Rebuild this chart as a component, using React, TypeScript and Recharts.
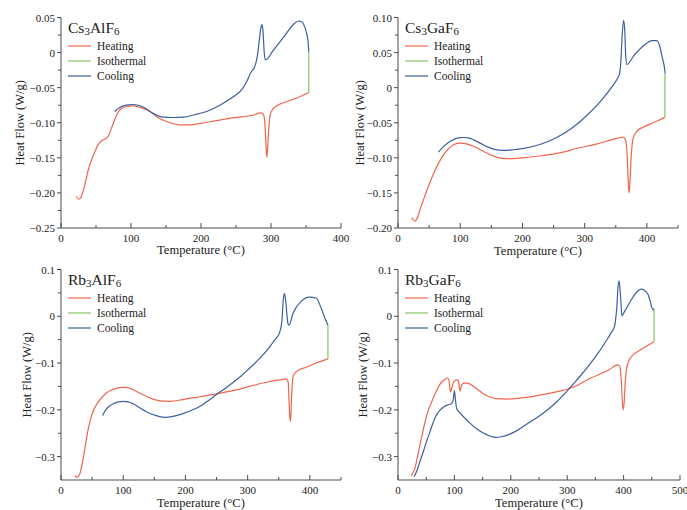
import React from "react";
import { LineChart, Line, XAxis, YAxis, Legend, Label } from "recharts";

// DSC heat-flow curves, four salts, one panel each.
const HEAT = "#f0654c";
const ISO = "#86c462";
const COOL = "#3d5f9f";
const AXIS = "#4a4a4a";
const INK = "#222";
const FONT = '"Liberation Serif", "Times New Roman", serif';

type Pair = [number, number];

// ---- Cs3AlF6 ----
const csAlHeating: Pair[] = [
  [22, -0.205], [25.5, -0.209], [29, -0.205], [32, -0.196], [36, -0.18], [39, -0.167], [44, -0.152],
  [48.6, -0.141], [52, -0.133], [55.7, -0.128], [59, -0.125], [63, -0.123], [66, -0.121], [69, -0.116],
  [72.4, -0.107], [77, -0.095], [81, -0.086], [86, -0.08], [94, -0.077], [103, -0.076], [113, -0.078],
  [127, -0.084], [141, -0.094], [156, -0.1], [170, -0.103], [184, -0.103], [199, -0.101], [222, -0.097],
  [246, -0.093], [270, -0.09], [276, -0.089], [280, -0.087], [286, -0.086], [289, -0.088], [291, -0.097],
  [293, -0.135], [294, -0.149], [295, -0.138], [296.5, -0.112], [299, -0.088], [303, -0.08], [308, -0.076],
  [322, -0.07], [341, -0.063], [354, -0.057],
];
const csAlIsothermal: Pair[] = [[354, -0.057], [354, 0.001]];
const csAlCooling: Pair[] = [
  [77, -0.084], [83, -0.079], [89, -0.076], [96, -0.0745], [103, -0.074], [110, -0.075], [118, -0.078],
  [132, -0.087], [146, -0.092], [160, -0.0925], [175, -0.092], [189, -0.089], [208, -0.084], [227, -0.075],
  [246, -0.063], [258, -0.053], [265, -0.042], [272, -0.027], [276, -0.022], [280, -0.008], [283, 0.015],
  [285.5, 0.035], [287, 0.04], [288.5, 0.032], [290, 0.005], [291.5, -0.01], [293, -0.01], [303, 0.003],
  [318, 0.022], [332, 0.04], [339, 0.045], [344, 0.044], [348, 0.037], [351, 0.027], [353, 0.015], [354, 0.001],
];

// ---- Cs3GaF6 ----
const csGaHeating: Pair[] = [
  [22, -0.185], [27, -0.19], [31, -0.186], [35, -0.175], [40, -0.162], [50, -0.138], [60, -0.117],
  [70, -0.1], [80, -0.088], [90, -0.081], [100, -0.079], [110, -0.08], [125, -0.085], [140, -0.092],
  [155, -0.098], [170, -0.101], [185, -0.101], [200, -0.1], [230, -0.097], [260, -0.093], [290, -0.086],
  [320, -0.08], [345, -0.074], [362, -0.0705], [366, -0.075], [368.5, -0.1], [370.5, -0.142], [371.5, -0.15],
  [373, -0.13], [375, -0.095], [378, -0.072], [384, -0.062], [395, -0.056], [410, -0.05], [420, -0.046],
  [429, -0.042],
];
const csGaIsothermal: Pair[] = [[429, -0.042], [429, 0.02]];
const csGaCooling: Pair[] = [
  [65, -0.092], [73, -0.084], [81, -0.078], [89, -0.074], [97, -0.0715], [105, -0.071], [113, -0.0715],
  [121, -0.074], [132, -0.079], [143, -0.084], [155, -0.088], [169, -0.0895], [185, -0.0885], [202, -0.0865],
  [228, -0.081], [255, -0.071], [282, -0.056], [303, -0.04], [325, -0.02], [346, 0.004], [352, 0.012],
  [356, 0.02], [358, 0.035], [360, 0.07], [362.5, 0.096], [364.5, 0.08], [366, 0.045], [368, 0.033],
  [378.5, 0.045], [395, 0.06], [408, 0.067], [416, 0.067], [421, 0.058], [425, 0.042], [428, 0.03], [429.5, 0.02],
];

// ---- Rb3AlF6 ----
const rbAlHeating: Pair[] = [
  [22.5, -0.341], [26, -0.344], [30.5, -0.336], [34, -0.315], [38.5, -0.282], [42, -0.253], [46.5, -0.225],
  [51, -0.205], [57, -0.189], [64, -0.176], [73, -0.164], [81, -0.158], [89, -0.154], [96, -0.152],
  [103, -0.152], [116, -0.157], [126, -0.164], [137, -0.171], [148, -0.177], [159, -0.181], [175, -0.182],
  [196, -0.178], [223, -0.172], [250, -0.166], [276, -0.159], [303, -0.15], [330, -0.141], [351, -0.136],
  [362, -0.134], [365, -0.14], [366.5, -0.18], [368, -0.22], [369, -0.224], [370.5, -0.175], [372, -0.14],
  [374, -0.125], [381, -0.116], [394, -0.109], [410, -0.1], [429, -0.091],
];
const rbAlIsothermal: Pair[] = [[429, -0.091], [429, -0.019]];
const rbAlCooling: Pair[] = [
  [67, -0.212], [70, -0.204], [73, -0.198], [78, -0.192], [84, -0.187], [92, -0.183], [100, -0.182],
  [108, -0.183], [116, -0.187], [126, -0.195], [137, -0.204], [150, -0.211], [167, -0.216], [180, -0.214],
  [196, -0.208], [210, -0.201], [223, -0.193], [236, -0.181], [250, -0.167], [263, -0.155], [276, -0.142],
  [290, -0.127], [303, -0.111], [315, -0.096], [325, -0.082], [334, -0.068], [341, -0.055], [347, -0.045],
  [351, -0.036], [355, -0.011], [357, 0.032], [359, 0.049], [361, 0.035], [363, 0.005], [365, -0.017],
  [366.5, -0.019], [373, 0.007], [386, 0.032], [399, 0.041], [410, 0.039], [418, 0.018], [425, -0.007],
  [429, -0.019],
];

// ---- Rb3GaF6 ----
const rbGaHeating: Pair[] = [
  [23, -0.341], [30, -0.325], [35, -0.298], [39, -0.275], [44, -0.247], [48, -0.225], [54, -0.2],
  [60, -0.182], [66, -0.165], [72, -0.15], [78, -0.14], [84, -0.134], [88, -0.132], [90.5, -0.138],
  [92, -0.152], [93, -0.162], [94.5, -0.157], [96, -0.15], [99, -0.14], [102, -0.137], [105, -0.136],
  [107.5, -0.14], [109, -0.155], [110, -0.16], [111.5, -0.152], [113, -0.147], [117, -0.143], [122.5, -0.143],
  [134, -0.15], [143, -0.158], [152, -0.166], [162, -0.172], [175, -0.176], [194, -0.177], [224, -0.174],
  [253, -0.168], [283, -0.161], [300, -0.156], [313, -0.15], [342, -0.132], [372, -0.116], [390, -0.104],
  [393.5, -0.108], [396, -0.14], [398, -0.185], [399.5, -0.2], [401, -0.185], [403, -0.14], [405.5, -0.111],
  [409, -0.096], [414, -0.086], [426, -0.075], [440.5, -0.064], [454, -0.054],
];
const rbGaIsothermal: Pair[] = [[454, -0.054], [454, 0.016]];
const rbGaCooling: Pair[] = [
  [28.5, -0.343], [33, -0.332], [39, -0.31], [45, -0.289], [51, -0.266], [57, -0.246], [62, -0.228],
  [66, -0.216], [70, -0.208], [75, -0.2], [81, -0.194], [87, -0.19], [93, -0.188], [97.5, -0.182],
  [100, -0.159], [102, -0.18], [104, -0.197], [108, -0.204], [118, -0.217], [128, -0.229], [140, -0.241],
  [152, -0.25], [163, -0.256], [173, -0.259], [185, -0.257], [194, -0.254], [210, -0.245], [224, -0.234],
  [238, -0.223], [253, -0.211], [268, -0.197], [283, -0.181], [298, -0.162], [313, -0.142], [325, -0.125],
  [336.5, -0.108], [345, -0.095], [354, -0.08], [363, -0.064], [372, -0.047], [378, -0.035], [384, -0.021],
  [386, -0.005], [388, 0.02], [390, 0.062], [392, 0.076], [393.5, 0.06], [395, 0.035], [397, 0.001],
  [402, 0.011], [408, 0.023], [414, 0.036], [420, 0.047], [426, 0.055], [431, 0.058], [435, 0.057],
  [440, 0.052], [443.5, 0.046], [447, 0.033], [449.5, 0.021], [452, 0.014], [454, 0.016],
];

// ---- axes ----
const xMajor400 = [0, 100, 200, 300, 400];
const xMinor400 = [50, 150, 250, 350];
const xMajor500 = [0, 100, 200, 300, 400, 500];
const xMinor500 = [50, 150, 250, 350, 450];
const yMajorCsAl = [-0.25, -0.2, -0.15, -0.1, -0.05, 0, 0.05];
const yMinorCsAl = [-0.225, -0.175, -0.125, -0.075, -0.025, 0.025];
const yMajorCsGa = [-0.2, -0.15, -0.1, -0.05, 0, 0.05, 0.1];
const yMinorCsGa = [-0.175, -0.125, -0.075, -0.025, 0.025, 0.075];
const yMajorRb = [-0.3, -0.2, -0.1, 0, 0.1];
const yMinorRb = [-0.25, -0.15, -0.05, 0.05];

const SERIES_NAMES = ["Heating", "Isothermal", "Cooling"];
const X_TITLE = "Temperature (°C)";
const Y_TITLE = "Heat Flow (W/g)";

const toPts = (rows: Pair[]) => rows.map(([x, y]) => ({ x, y }));
const fmt = (v: number, dec: number) => (v === 0 ? "0" : v.toFixed(dec).replace("-", "\u2212"));

const Y_AXIS_W = 61;
const TOP = 17.5;
const PLOT_H = 210.5;
const X_AXIS_H = 27;
const RIGHT = 12;
const BOTTOM = 10;

type PanelProps = {
  formula: [string, string, string, string];
  heating: Pair[];
  isothermal: Pair[];
  cooling: Pair[];
  xDomain: [number, number];
  xMajor: number[];
  xMinor: number[];
  yDomain: [number, number];
  yMajor: number[];
  yMinor: number[];
  dec: number;
  left: number;
  top: number;
  plotW: number;
  yTitleDx: number;
  xTitleDy: number;
};

const txtStyle = { fontFamily: FONT, fill: INK };

function Panel(p: PanelProps) {
  const width = Y_AXIS_W + p.plotW + RIGHT;
  const height = TOP + PLOT_H + X_AXIS_H + BOTTOM;

  const xTick = (t: any) => {
    const major = p.xMajor.includes(t.payload.value);
    return (
      <g>
        <line x1={t.x} x2={t.x} y1={t.y} y2={t.y - (major ? 5 : 3)} stroke={AXIS} strokeWidth={1} />
        {major && (
          <text x={t.x} y={t.y + 9.5} textAnchor="middle" dominantBaseline="central" fontSize={11} style={txtStyle}>
            {t.payload.value}
          </text>
        )}
      </g>
    );
  };

  const yTick = (t: any) => {
    const major = p.yMajor.includes(t.payload.value);
    return (
      <g>
        <line x1={t.x - (major ? 4 : 3)} x2={t.x} y1={t.y} y2={t.y} stroke={AXIS} strokeWidth={1} />
        {major && (
          <text x={t.x - 6} y={t.y} textAnchor="end" dominantBaseline="central" fontSize={11} style={txtStyle}>
            {fmt(t.payload.value, p.dec)}
          </text>
        )}
      </g>
    );
  };

  const legend = (props: any) => {
    const items = ((props.payload || []) as any[])
      .slice()
      .sort((a, b) => SERIES_NAMES.indexOf(a.value) - SERIES_NAMES.indexOf(b.value));
    return (
      <svg width={140} height={70} style={{ display: "block" }}>
        <text x={7} y={15} fontSize={15.5} style={txtStyle}>
          <tspan>{p.formula[0]}</tspan>
          <tspan fontSize={11} dy={1.5}>{p.formula[1]}</tspan>
          <tspan dy={-1.5}>{p.formula[2]}</tspan>
          <tspan fontSize={11} dy={1.5}>{p.formula[3]}</tspan>
        </text>
        {items.map((it, i) => (
          <g key={it.value}>
            <line x1={7} x2={30} y1={28 + i * 15} y2={28 + i * 15} stroke={it.color} strokeWidth={1.2} />
            <text x={36} y={28 + i * 15} dominantBaseline="central" fontSize={11.5} style={txtStyle}>
              {it.value}
            </text>
          </g>
        ))}
      </svg>
    );
  };

  return (
    <div style={{ position: "absolute", left: p.left, top: p.top, fontFamily: FONT }}>
      <LineChart width={width} height={height} margin={{ top: TOP, right: RIGHT, bottom: BOTTOM, left: 0 }} style={{ fontFamily: FONT }}>
        <XAxis
          type="number"
          dataKey="x"
          domain={p.xDomain}
          ticks={[...p.xMajor, ...p.xMinor].sort((a, b) => a - b)}
          interval={0}
          height={X_AXIS_H}
          tickSize={0}
          tickMargin={0}
          tickLine={false}
          axisLine={{ stroke: AXIS }}
          tick={xTick}
        >
          <Label
            content={(lp: any) => {
              const vb = lp.viewBox;
              return (
                <text x={vb.x + vb.width / 2} y={vb.y + p.xTitleDy} textAnchor="middle" dominantBaseline="central" fontSize={12.5} style={txtStyle}>
                  {X_TITLE}
                </text>
              );
            }}
          />
        </XAxis>
        <XAxis xAxisId="top" orientation="top" type="number" domain={p.xDomain} height={0} tick={false} tickLine={false} axisLine={{ stroke: AXIS }} />
        <YAxis
          type="number"
          domain={p.yDomain}
          ticks={[...p.yMajor, ...p.yMinor].sort((a, b) => a - b)}
          interval={0}
          width={Y_AXIS_W}
          tickSize={0}
          tickMargin={0}
          tickLine={false}
          axisLine={{ stroke: AXIS }}
          tick={yTick}
        >
          <Label
            content={(lp: any) => {
              const vb = lp.viewBox;
              const cx = vb.x + vb.width + p.yTitleDx;
              const cy = vb.y + vb.height / 2;
              return (
                <text x={cx} y={cy} transform={`rotate(-90 ${cx} ${cy})`} textAnchor="middle" dominantBaseline="central" fontSize={12.5} style={txtStyle}>
                  {Y_TITLE}
                </text>
              );
            }}
          />
        </YAxis>
        <YAxis yAxisId="right" orientation="right" type="number" domain={p.yDomain} width={0} tick={false} tickLine={false} axisLine={{ stroke: AXIS }} />
        <Legend
          layout="horizontal"
          verticalAlign="middle"
          align="center"
          content={legend}
          wrapperStyle={{ left: Y_AXIS_W, top: TOP, width: 140, height: 70 }}
        />
        <Line data={toPts(p.heating)} dataKey="y" name={SERIES_NAMES[0]} type="monotone" stroke={HEAT} strokeWidth={1.2} dot={false} activeDot={false} isAnimationActive={false} />
        <Line data={toPts(p.isothermal)} dataKey="y" name={SERIES_NAMES[1]} type="linear" stroke={ISO} strokeWidth={1.2} dot={false} activeDot={false} isAnimationActive={false} />
        <Line data={toPts(p.cooling)} dataKey="y" name={SERIES_NAMES[2]} type="monotone" stroke={COOL} strokeWidth={1.2} dot={false} activeDot={false} isAnimationActive={false} />
      </LineChart>
    </div>
  );
}

export default function App() {
  return (
    <div style={{ position: "absolute", left: 0, top: 0, width: 687, height: 510, background: "#fff", overflow: "hidden" }}>
      <Panel
        formula={["Cs", "3", "AlF", "6"]}
        heating={csAlHeating} isothermal={csAlIsothermal} cooling={csAlCooling}
        xDomain={[0, 400]} xMajor={xMajor400} xMinor={xMinor400}
        yDomain={[-0.25, 0.05]} yMajor={yMajorCsAl} yMinor={yMinorCsAl} dec={2}
        left={0} top={0} plotW={280} yTitleDx={-41} xTitleDy={21.5}
      />
      <Panel
        formula={["Cs", "3", "GaF", "6"]}
        heating={csGaHeating} isothermal={csGaIsothermal} cooling={csGaCooling}
        xDomain={[0, 450]} xMajor={xMajor400} xMinor={[...xMinor400, 450]}
        yDomain={[-0.2, 0.1]} yMajor={yMajorCsGa} yMinor={yMinorCsGa} dec={2}
        left={337} top={0} plotW={280} yTitleDx={-38} xTitleDy={22.5}
      />
      <Panel
        formula={["Rb", "3", "AlF", "6"]}
        heating={rbAlHeating} isothermal={rbAlIsothermal} cooling={rbAlCooling}
        xDomain={[0, 450]} xMajor={xMajor400} xMinor={[...xMinor400, 450]}
        yDomain={[-0.35, 0.1]} yMajor={yMajorRb} yMinor={yMinorRb} dec={1}
        left={0} top={252} plotW={280} yTitleDx={-34} xTitleDy={23}
      />
      <Panel
        formula={["Rb", "3", "GaF", "6"]}
        heating={rbGaHeating} isothermal={rbGaIsothermal} cooling={rbGaCooling}
        xDomain={[0, 500]} xMajor={xMajor500} xMinor={xMinor500}
        yDomain={[-0.35, 0.1]} yMajor={yMajorRb} yMinor={yMinorRb} dec={1}
        left={337} top={252} plotW={282} yTitleDx={-35} xTitleDy={23}
      />
    </div>
  );
}
